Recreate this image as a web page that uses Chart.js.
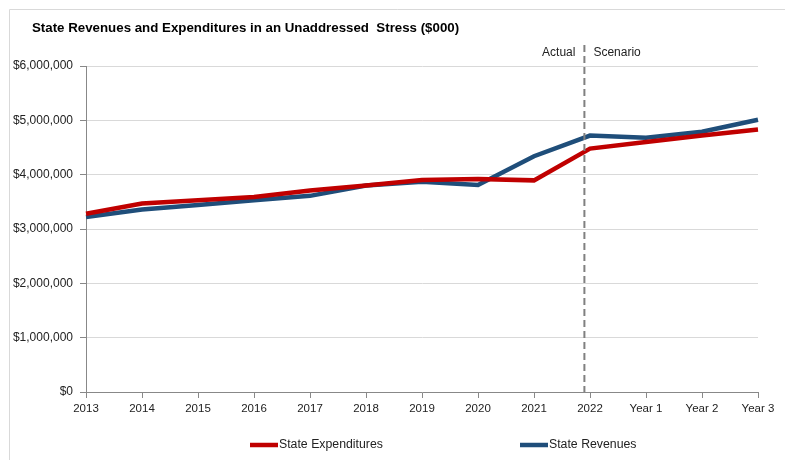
<!DOCTYPE html>
<html>
<head>
<meta charset="UTF-8">
<title>State Revenues and Expenditures</title>
<script src="https://cdn.jsdelivr.net/npm/chart.js@4.4.0/dist/chart.umd.min.js"></script>
<style>
	body {margin:0; background:#fff;}
	#wrap {position:relative; width:785px; height:460px;}
</style>
</head>
<body>
<div id="wrap">
	<canvas id="myChart" width="785" height="460"></canvas>
</div>
<script>
	// chart data ($000)
	const years = ['2013','2014','2015','2016','2017','2018','2019','2020','2021','2022','Year 1','Year 2','Year 3'];
	const expenditures = [3280000, 3470000, 3530000, 3590000, 3710000, 3800000, 3900000, 3920000, 3895000, 4480000, 4600000, 4720000, 4830000];
	const revenues = [3220000, 3360000, 3440000, 3530000, 3610000, 3800000, 3870000, 3810000, 4340000, 4720000, 4680000, 4790000, 5010000];
	const yTicks = [0, 1000000, 2000000, 3000000, 4000000, 5000000, 6000000];
	const splitAt = 8.9; // between 2021 and 2022

	const FONT = "'Liberation Sans', Arial, sans-serif";

	// frame, title, actual/scenario divider and legend
	const extras = {
		id: 'extras',
		beforeDraw(chart) {
			const c = chart.ctx;
			c.save();
			c.strokeStyle = '#d9d9d9';
			c.lineWidth = 1;
			c.beginPath();
			c.moveTo(9.5, 460); c.lineTo(9.5, 9.5); c.lineTo(785, 9.5);
			c.stroke();
			c.restore();
		},
		afterDraw(chart) {
			const c = chart.ctx;
			const x = chart.scales.x.getPixelForValue(splitAt);
			const area = chart.chartArea;
			c.save();
			// title
			c.fillStyle = '#000';
			c.font = 'bold 13.3px ' + FONT;
			c.textBaseline = 'middle';
			c.textAlign = 'left';
			c.fillText('State Revenues and Expenditures in an Unaddressed  Stress ($000)', 32, 28);
			// dashed divider
			c.strokeStyle = '#808080';
			c.lineWidth = 2;
			c.setLineDash([7, 4]);
			c.beginPath();
			c.moveTo(x, 45); c.lineTo(x, area.bottom);
			c.stroke();
			c.setLineDash([]);
			c.font = '12px ' + FONT;
			c.fillStyle = '#222';
			c.textAlign = 'right';
			c.fillText('Actual', x - 9, 53);
			c.textAlign = 'left';
			c.fillText('Scenario', x + 9, 53);
			// legend
			c.font = '12.3px ' + FONT;
			const items = [[250, chart.data.datasets[0]], [520, chart.data.datasets[1]]];
			items.forEach(function(it) {
				c.strokeStyle = it[1].borderColor;
				c.lineWidth = 4.5;
				c.beginPath();
				c.moveTo(it[0], 445); c.lineTo(it[0] + 28, 445);
				c.stroke();
				c.fillStyle = '#222';
				c.fillText(it[1].label, it[0] + 29, 445);
			});
			c.restore();
		}
	};

	const ctx = document.getElementById('myChart');
	const chart = new Chart(ctx, {
		type: 'line',
		data: {
			labels: years,
			datasets: [{
				label: 'State Expenditures',
				data: expenditures,
				borderColor: '#C00000',
				backgroundColor: '#C00000',
				borderWidth: 4.5,
				pointRadius: 0,
				tension: 0
			}, {
				label: 'State Revenues',
				data: revenues,
				borderColor: '#1F4E7A',
				backgroundColor: '#1F4E7A',
				borderWidth: 4.5,
				pointRadius: 0,
				tension: 0
			}]
		},
		options: {
			responsive: false,
			animation: false,
			devicePixelRatio: 1,
			layout: {padding: {top: 66, right: 27, bottom: 0, left: 0}},
			plugins: {legend: {display: false}, title: {display: false}, tooltip: {enabled: false}},
			scales: {
				x: {
					offset: false,
					grid: {drawOnChartArea: false, tickLength: 6, tickColor: '#888', color: '#888'},
					border: {color: '#888'},
					ticks: {color: '#222', font: {family: FONT, size: 11.5}, padding: 4, maxRotation: 0, autoSkip: false},
					afterFit: function(s) { s.height = 68; }
				},
				y: {
					min: 0,
					max: 6000000,
					afterBuildTicks: function(s) { s.ticks = yTicks.map(v => ({value: v})); },
					grid: {color: '#d9d9d9', tickLength: 6, tickColor: '#888'},
					border: {color: '#888'},
					ticks: {
						color: '#222',
						font: {family: FONT, size: 12},
						padding: 7,
						callback: v => '$' + Number(v).toLocaleString('en-US')
					},
					afterFit: function(s) { s.width = 86; }
				}
			}
		},
		plugins: [extras]
	});
</script>
</body>
</html>
